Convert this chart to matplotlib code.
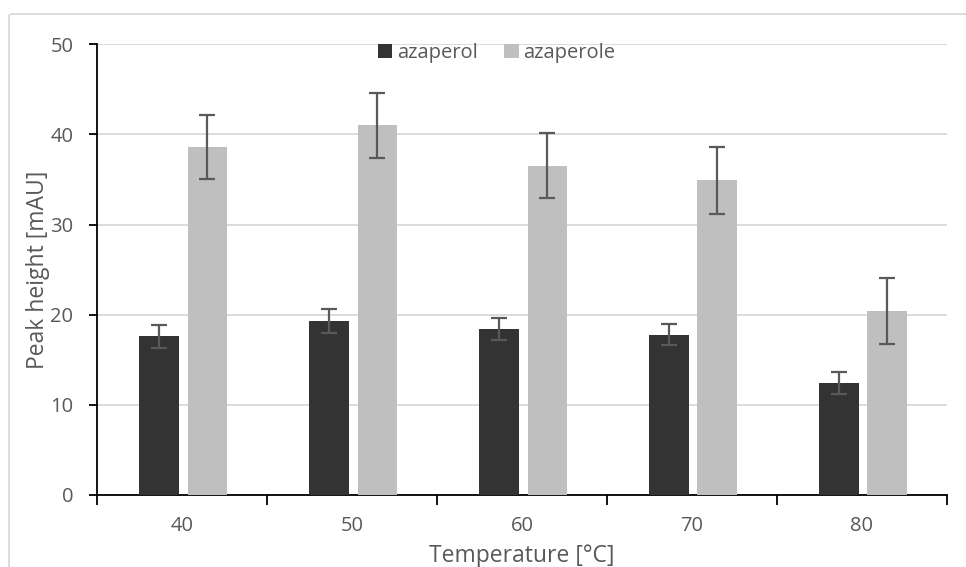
import numpy as np
import matplotlib.pyplot as plt
from matplotlib.patches import FancyBboxPatch

temps = ["40", "50", "60", "70", "80"]
azaperol = [17.6, 19.3, 18.4, 17.8, 12.4]
azaperol_err = [1.3, 1.3, 1.2, 1.2, 1.2]
azaperole = [38.6, 41.0, 36.5, 34.9, 20.4]
azaperole_err = [3.6, 3.6, 3.6, 3.7, 3.7]

plt.rcParams['font.family'] = ['Open Sans', 'DejaVu Sans']
txt = "#595959"

fig = plt.figure(figsize=(9.66, 5.67), dpi=100)
# chart-area frame (runs off the right and bottom edges like the original)
frame = FancyBboxPatch((9 / 966, -0.05), 1.0, 1 - 14 / 567 + 0.05,
                       boxstyle="round,pad=0,rounding_size=0.004",
                       transform=fig.transFigure, facecolor="white", edgecolor="#d9d9d9",
                       linewidth=1.3, zorder=-5)
fig.patches.append(frame)
ax = fig.add_axes([0.1004, 0.127, 0.8799, 0.795])
ax.set_facecolor("none")

x = np.arange(len(temps))
w = 0.235
ekw = dict(ecolor="#595959", elinewidth=1.6, capsize=6, capthick=1.6)
ax.bar(x - 0.135, azaperol, w, color="#333333", label="azaperol", zorder=3,
       yerr=azaperol_err, error_kw=ekw)
ax.bar(x + 0.15, azaperole, w, color="#bfbfbf", label="azaperole", zorder=3,
       yerr=azaperole_err, error_kw=ekw)

ax.set_xlim(-0.5, len(temps) - 0.5)
ax.set_ylim(0, 50)
ax.set_yticks(range(0, 51, 10))
ax.yaxis.grid(True, color="#d9d9d9", linewidth=1.3, zorder=0)
ax.set_axisbelow(True)

# ticks sit between categories, labels at category centres
ax.set_xticks(np.arange(-0.5, len(temps), 1.0))
ax.set_xticklabels([])
ax.set_xticks(x, minor=True)
ax.set_xticklabels(temps, minor=True)
ax.tick_params(axis="x", which="major", length=7, width=1.3, direction="out", color="black")
ax.tick_params(axis="x", which="minor", length=0, pad=15, labelsize=14.5, labelcolor=txt)
ax.tick_params(axis="y", length=6, width=1.3, direction="out", color="black",
               labelsize=14.5, labelcolor=txt, pad=11)

for s in ["top", "right"]:
    ax.spines[s].set_visible(False)
for s in ["left", "bottom"]:
    ax.spines[s].set_linewidth(1.3)
    ax.spines[s].set_color("black")

ax.set_xlabel("Temperature [°C]", fontsize=16.5, color=txt, labelpad=6)
ax.set_ylabel("Peak height [mAU]", fontsize=16.5, color=txt, labelpad=0)

leg = fig.legend(loc="center", bbox_to_anchor=(497 / 966, 1 - 53 / 567), ncol=2, frameon=False,
                 fontsize=14.5, handlelength=0.7, handleheight=0.7, handletextpad=0.25,
                 columnspacing=1.3, borderpad=0)
for t in leg.get_texts():
    t.set_color(txt)

fig.savefig("out.png", dpi=100)
